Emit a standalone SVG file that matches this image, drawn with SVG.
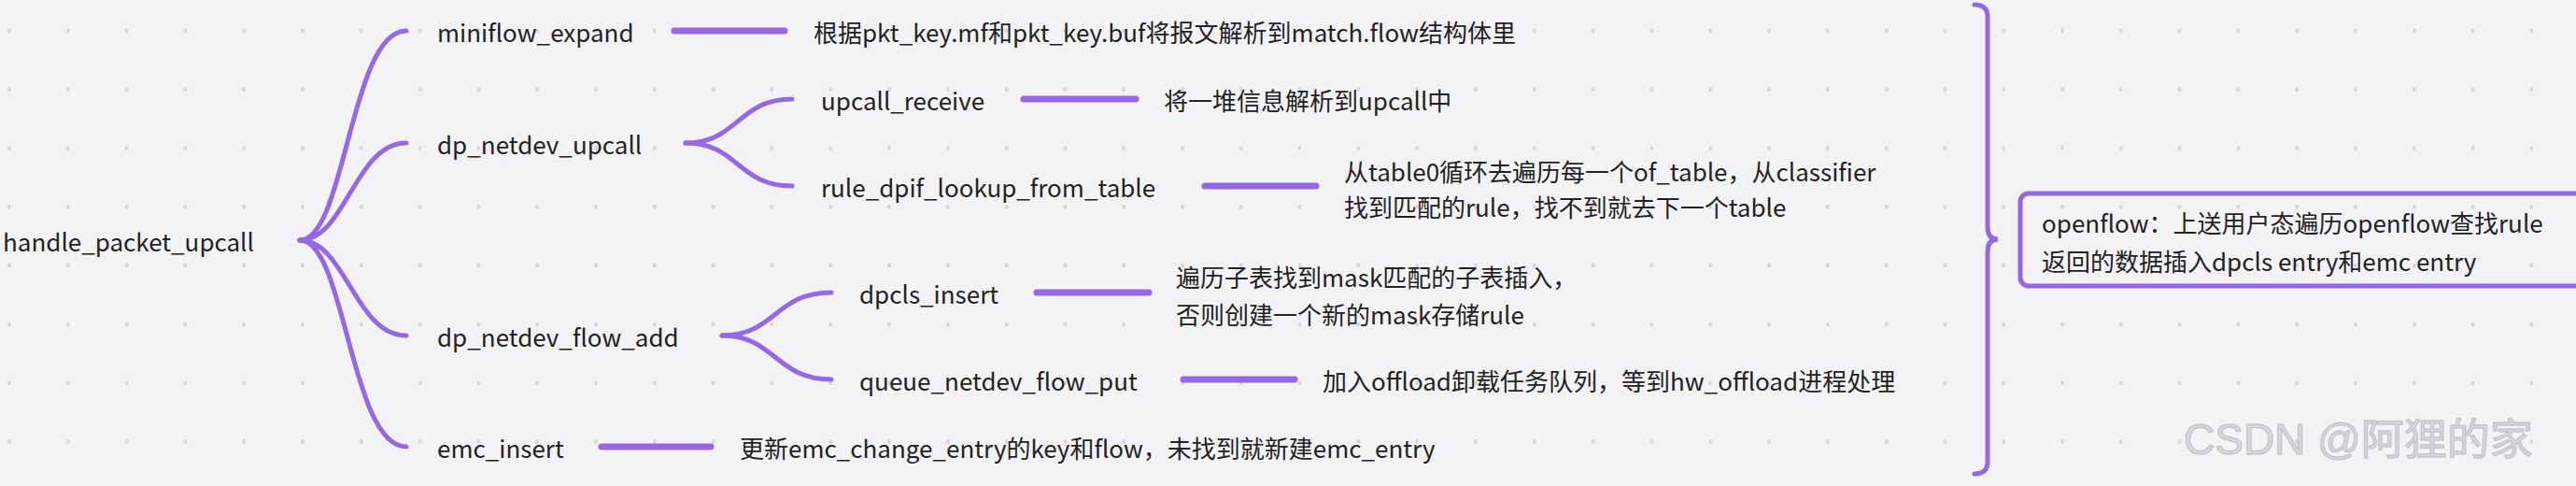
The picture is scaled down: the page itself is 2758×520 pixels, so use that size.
<svg xmlns="http://www.w3.org/2000/svg" width="2758" height="520" viewBox="0 0 2758 520">
<style>
text{font-family:"Noto Sans CJK SC","Noto Sans",sans-serif;font-size:26px;fill:#222;dominant-baseline:central}
.c{fill:none;stroke:#9568e6;stroke-width:5;stroke-linecap:round}
.l{fill:none;stroke:#9568e6;stroke-width:7;stroke-linecap:round}
</style>
<defs>
<pattern id="dots" x="0" y="0" width="62.8" height="62.8" patternUnits="userSpaceOnUse">
<rect x="8.5" y="31" width="3" height="4" fill="#cfcfd6"/>
</pattern>
</defs>
<rect width="2758" height="520" fill="#f3f3f6"/>
<rect width="2758" height="520" fill="url(#dots)"/>
<g id="connectors">
<path class="c" d="M321 257 C370 257 375 33 435 33"/>
<path class="c" d="M321 257 C370 257 380 153 435 153"/>
<path class="c" d="M321 257 C370 257 380 359 435 359"/>
<path class="c" d="M321 257 C370 257 375 478 435 478"/>
<path class="c" d="M734 153 C790 153 790 106 848 106"/>
<path class="c" d="M734 153 C790 153 790 199 848 199"/>
<path class="c" d="M773 359 C830 359 830 313 890 313"/>
<path class="c" d="M773 359 C830 359 830 406 890 406"/>
<path class="l" d="M722 33 H840"/>
<path class="l" d="M1096 106 H1216"/>
<path class="l" d="M1290 199 H1409"/>
<path class="l" d="M1110 313 H1230"/>
<path class="l" d="M1267 406 H1386"/>
<path class="l" d="M644 478 H761"/>
<path class="c" d="M2114 5 Q2128 5 2128 18 V243 Q2128 256 2139 256 Q2128 256 2128 269 V494 Q2128 507 2114 507"/>
</g>
<g id="root"><text x="3" y="257">handle_packet_upcall</text></g>
<g id="miniflow_expand"><text x="468" y="33">miniflow_expand</text></g>
<g id="dp_netdev_upcall"><text x="468" y="153">dp_netdev_upcall</text></g>
<g id="dp_netdev_flow_add"><text x="468" y="359">dp_netdev_flow_add</text></g>
<g id="emc_insert"><text x="468" y="478">emc_insert</text></g>
<g id="upcall_receive"><text x="879" y="106">upcall_receive</text></g>
<g id="rule_dpif_lookup_from_table"><text x="879" y="199">rule_dpif_lookup_from_table</text></g>
<g id="dpcls_insert"><text x="920" y="313">dpcls_insert</text></g>
<g id="queue_netdev_flow_put"><text x="920" y="406">queue_netdev_flow_put</text></g>
<g id="desc_miniflow"><text x="871" y="33">根据pkt_key.mf和pkt_key.buf将报文解析到match.flow结构体里</text></g>
<g id="desc_upcall"><text x="1246" y="106">将一堆信息解析到upcall中</text></g>
<g id="desc_rule"><text x="1439" y="182">从table0循环去遍历每一个of_table，从classifier</text><text x="1439" y="220">找到匹配的rule，找不到就去下一个table</text></g>
<g id="desc_dpcls"><text x="1259" y="295">遍历子表找到mask匹配的子表插入，</text><text x="1259" y="335">否则创建一个新的mask存储rule</text></g>
<g id="desc_queue"><text x="1416" y="406">加入offload卸载任务队列，等到hw_offload进程处理</text></g>
<g id="desc_emc"><text x="792" y="478">更新emc_change_entry的key和flow，未找到就新建emc_entry</text></g>
<g id="openflow">
<rect x="2163" y="207" width="620" height="99" rx="9" fill="none" stroke="#9568e6" stroke-width="5"/>
<text x="2186" y="237">openflow：上送用户态遍历openflow查找rule</text>
<text x="2186" y="278">返回的数据插入dpcls entry和emc entry</text>
</g>
<text x="2338" y="470" style="font-family:'Liberation Sans','Noto Sans CJK SC',sans-serif;font-size:46px;fill:#d8d8dc;stroke:#bdbdc2;stroke-width:1">CSDN @阿狸的家</text>
</svg>
